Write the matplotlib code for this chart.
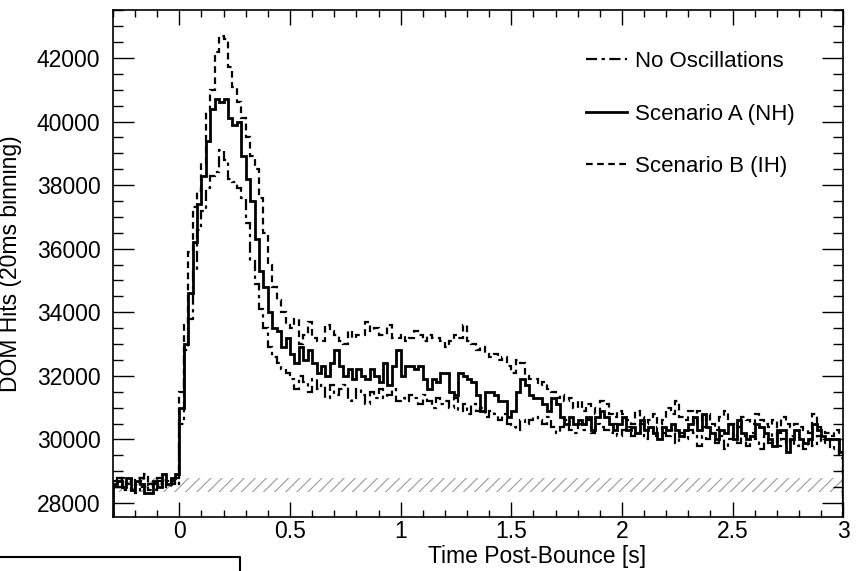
import matplotlib
matplotlib.use("Agg")
import matplotlib.pyplot as plt
import numpy as np
from matplotlib.lines import Line2D
from matplotlib.patches import Rectangle
from matplotlib.ticker import MultipleLocator, FormatStrFormatter

# histogram range: 20 ms bins from -0.3 s to 3.0 s
T_MIN, T_MAX, BIN_W = -0.3, 3.0, 0.02

# Scenario A (NH) - solid
scen_a = [
    28600, 28700, 28500, 28800, 28400, 28700, 28600, 28300, 28300, 28700, 28500, 28900, 28600, 28800, 28900,
    31000, 33000, 34600, 36200, 37400, 38300, 39400, 40400, 40700, 40600,
    40700, 40100, 39900, 40000, 38900, 38200, 37500, 36300, 35300, 34800,
    34000, 33500, 33400, 32900, 33200, 32700, 32400, 32900, 32500, 32800,
    32400, 32100, 32300, 32000, 32400, 32800, 32300, 32000, 32200, 31900,
    32200, 32000, 31900, 32200, 32000, 31800, 32400, 31700, 32300, 32800,
    32000, 32300, 32300, 32200, 32300, 31900, 31600, 31900, 31800, 32100,
    32100, 31500, 31400, 32100, 32000, 31900, 31800, 31400, 30900, 31500,
    31500, 31400, 31200, 31200, 30700, 30900, 31500, 31900, 31700, 31400,
    31300, 31300, 31100, 30900, 31300, 31100, 30700, 30500, 30700, 30500,
    30600, 30500, 30700, 30300, 30700, 30900, 30700, 30500, 30300, 30500,
    30700, 30300, 30400, 30200, 30600, 30300, 30400, 30200, 30000, 30400,
    30300, 30500, 30300, 30100, 30300, 30500, 30700, 30300, 30800, 30400,
    30200, 30000, 30300, 30200, 30500, 30000, 30600, 30200, 30000, 30100,
    30500, 30400, 30200, 30000, 29800, 30300, 30300, 29600, 30000, 30300,
    30000, 29900, 30000, 30500, 30300, 30100, 30000, 30000, 30000, 29600,
]

# Scenario B (IH) - dashed
scen_b = [
    28700, 28500, 28800, 28600, 28400, 28800, 28500, 28900, 28400, 28600, 28800, 28500, 28700, 28600, 28800,
    31500, 33600, 35900, 37300, 37800, 38700, 40300, 41000, 42200, 42700,
    42600, 41700, 41100, 40600, 40100, 39500, 38900, 38500, 37600, 36500,
    35500, 34800, 34400, 34000, 33600, 33500, 33800, 33000, 33300, 33700,
    33200, 33100, 33100, 33600, 33400, 33300, 33100, 33000, 33400, 33200,
    33300, 33300, 33700, 33400, 33500, 33300, 33300, 33600, 33200, 33200,
    33300, 33100, 33200, 33400, 33300, 33100, 33300, 33200, 33200, 33100,
    32900, 33100, 33300, 33200, 33600, 33100, 33000, 32800, 32900, 32700,
    32600, 32700, 32500, 32600, 32300, 32100, 32500, 32400, 32000, 31900,
    31900, 31700, 31800, 31600, 31500, 31300, 31400, 31200, 31300, 31000,
    31200, 30900, 31100, 31000, 30800, 31200, 31100, 30800, 30700, 30900,
    30800, 30600, 30500, 30900, 30700, 30500, 30600, 30800, 30500, 30600,
    31000, 30800, 31200, 30700, 30600, 30900, 30500, 30900, 30400, 30800,
    30500, 30300, 30700, 30900, 30500, 30500, 30400, 30700, 30600, 30500,
    30800, 30600, 30500, 30400, 30600, 30200, 30700, 30500, 30400, 30500,
    30400, 30300, 30200, 30800, 30400, 30300, 30200, 30100, 30300, 29400,
]

# No oscillations - dash-dot
no_osc = [
    28500, 28800, 28400, 28700, 28600, 28300, 28800, 28500, 28600, 28400, 28700, 28600, 28500, 28700, 28600,
    30500, 32800, 33800, 35300, 36600, 37200, 37900, 38300, 38400, 39100,
    38800, 38200, 38100, 37900, 37600, 36800, 35600, 34900, 34100, 33500,
    32900, 32600, 32400, 32200, 32100, 31900, 31600, 32000, 31800, 31500,
    31900, 31600, 31700, 31300, 31700, 31400, 31600, 31700, 31200, 31300,
    31600, 31400, 31100, 31500, 31300, 31600, 31300, 31400, 31600, 31200,
    31300, 31200, 31400, 31300, 31100, 31400, 31200, 31000, 31300, 31100,
    31200, 31000, 31300, 30900, 31100, 30800, 31100, 30900, 31000, 30700,
    30900, 30800, 30600, 30800, 30500, 30400, 30300, 30600, 30500, 30600,
    30700, 30600, 30500, 30700, 30400, 30200, 30400, 30600, 30300, 30200,
    30500, 30300, 30600, 30200, 30500, 30400, 30300, 30200, 30500, 30100,
    30300, 30400, 30100, 30200, 30500, 30000, 30300, 30100, 30400, 30200,
    30100, 30300, 29900, 30200, 30000, 30300, 30200, 29800, 30100, 30000,
    30200, 29900, 30100, 29700, 30000, 30200, 29900, 30100, 29800, 30200,
    30000, 29700, 30100, 29900, 30200, 29800, 30000, 29900, 30100, 29800,
    29900, 29700, 30000, 29800, 30100, 29900, 30000, 29700, 29800, 29600,
]

# background band (hatched)
band_lo, band_hi = 28350, 28800

n_bins = len(scen_a)
edges = np.linspace(T_MIN, T_MAX, n_bins + 1)

plt.rcParams["font.family"] = ["Liberation Sans", "DejaVu Sans"]
plt.rcParams["font.size"] = 16.5
plt.rcParams["hatch.linewidth"] = 0.8

fig = plt.figure(figsize=(8.56, 5.71), dpi=100)
ax = fig.add_axes([0.132, 0.0946, 0.853, 0.888])

ax.add_patch(Rectangle((T_MIN, band_lo), T_MAX - T_MIN, band_hi - band_lo,
                       facecolor="none", edgecolor="#9a9a9a", linewidth=0, hatch="///"))

ax.stairs(no_osc, edges, color="black", lw=1.6, ls=(0, (5, 2, 1.5, 2)), label="No Oscillations")
ax.stairs(scen_a, edges, color="black", lw=2.0, ls="-", label="Scenario A (NH)")
ax.stairs(scen_b, edges, color="black", lw=1.6, ls=(0, (3, 2)), label="Scenario B (IH)")

ax.set_xlim(T_MIN, T_MAX)
ax.set_ylim(27560, 43510)

ax.xaxis.set_major_locator(MultipleLocator(0.5))
ax.xaxis.set_minor_locator(MultipleLocator(0.1))
ax.xaxis.set_major_formatter(FormatStrFormatter("%g"))
ax.yaxis.set_major_locator(MultipleLocator(2000))
ax.yaxis.set_minor_locator(MultipleLocator(500))

ax.tick_params(which="both", direction="in", top=True, right=True, width=1.0)
ax.tick_params(axis="x", which="major", length=11, pad=2)
ax.tick_params(axis="x", which="minor", length=5)
ax.tick_params(axis="y", which="major", length=15, pad=9)
ax.tick_params(axis="y", which="minor", length=7)
for s in ax.spines.values():
    s.set_linewidth(1.2)

ax.set_xlabel("Time Post-Bounce [s]", va="baseline")
ax.xaxis.set_label_coords(0.581, -0.0907)
ax.set_ylabel("DOM Hits (20ms binning)")
ax.yaxis.set_label_coords(-0.125, 0.5)

ax.legend(loc="upper left", frameon=False, fontsize=16, handlelength=1.85, handletextpad=0.36,
          labelspacing=1.42, borderpad=0, borderaxespad=0, bbox_to_anchor=(0.648, 0.919))

# stray box edge at the bottom left of the original image
fig.add_artist(Line2D([0.0, 0.280, 0.280], [0.0245, 0.0245, 0.0], transform=fig.transFigure,
                      color="black", lw=1.5))

fig.savefig("out.png", dpi=100)
